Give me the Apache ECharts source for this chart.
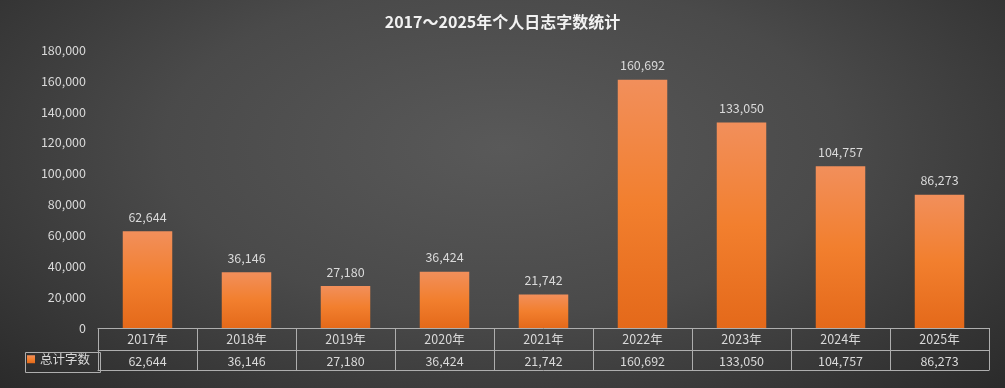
<!DOCTYPE html>
<html>
<head>
<meta charset="utf-8">
<script src="https://cdn.jsdelivr.net/npm/echarts@6/dist/echarts.min.js"></script>
<style>
html,body{margin:0;padding:0;}
#main{width:1005px;height:388px;background:radial-gradient(ellipse 75% 95% at 50% 38%, #595959 0%, #4a4a4a 45%, #262626 100%);}
</style>
</head>
<body>
<div id="main"></div>
<script>
const categories = ['2017年','2018年','2019年','2020年','2021年','2022年','2023年','2024年','2025年'];
const wordCounts = [62644, 36146, 27180, 36424, 21742, 160692, 133050, 104757, 86273];
const seriesName = '总计字数';
const titleText = '2017～2025年个人日志字数统计';
const yTicks = {min: 0, max: 180000, interval: 20000};

const fmt = v => Number(v).toLocaleString('en-US');
const FONT = '"Noto Sans CJK SC", "Microsoft YaHei", sans-serif';
const TXT = '#d9d9d9';
const LINE = '#aeaeae';

const chart = echarts.init(document.getElementById('main'), null, {renderer: 'canvas'});
chart.setOption({
  backgroundColor: 'transparent',
  textStyle: {fontFamily: FONT},
  title: {
    text: titleText, left: 'center', top: 9,
    textStyle: {color: '#f2f2f2', fontSize: 16, fontWeight: 'bold', fontFamily: FONT}
  },
  legend: {
    show: true, left: 27, top: 353, padding: 0, itemWidth: 8, itemHeight: 8, itemGap: 4,
    icon: 'rect', data: [seriesName],
    textStyle: {color: TXT, fontSize: 12.5, fontFamily: FONT}
  },
  grid: {left: 98, width: 891, top: 50, height: 278},
  xAxis: [
    {
      type: 'category', data: categories, position: 'bottom',
      axisLine: {show: true, lineStyle: {color: LINE, width: 1}},
      axisTick: {show: true, length: 42, lineStyle: {color: LINE, width: 1}},
      axisLabel: {color: TXT, fontSize: 12.5, margin: 5, fontFamily: FONT, interval: 0}
    },
    {
      type: 'category', data: wordCounts.map(fmt), position: 'bottom', offset: 22,
      axisLine: {show: true, lineStyle: {color: LINE, width: 1}},
      axisTick: {show: false},
      axisLabel: {color: TXT, fontSize: 12.5, margin: 5, fontFamily: FONT, interval: 0}
    },
    {
      type: 'category', data: categories, position: 'bottom', offset: 42,
      axisLine: {show: true, lineStyle: {color: LINE, width: 1}},
      axisTick: {show: false}, axisLabel: {show: false}
    }
  ],
  yAxis: {
    type: 'value', min: yTicks.min, max: yTicks.max, interval: yTicks.interval,
    axisLine: {show: false}, axisTick: {show: false}, splitLine: {show: false},
    axisLabel: {color: TXT, fontSize: 12.5, margin: 12, fontFamily: FONT, formatter: fmt}
  },
  series: [{
    name: seriesName, type: 'bar', data: wordCounts, xAxisIndex: 0,
    barWidth: '50%',
    itemStyle: {
      color: {
        type: 'linear', x: 0, y: 0, x2: 0, y2: 1,
        colorStops: [
          {offset: 0, color: '#f28f5b'},
          {offset: 0.5, color: '#f27f2e'},
          {offset: 1, color: '#e4691a'}
        ]
      }
    },
    label: {
      show: true, position: 'top', distance: 8,
      color: TXT, fontSize: 12.5, fontFamily: FONT, formatter: p => fmt(p.value)
    }
  }],
  graphic: [{
    type: 'rect', left: 23, top: 350, silent: true,
    shape: {x: 0, y: 0, width: 75, height: 20},
    style: {fill: 'none', stroke: LINE, lineWidth: 1}
  }]
});
</script>
</body>
</html>
